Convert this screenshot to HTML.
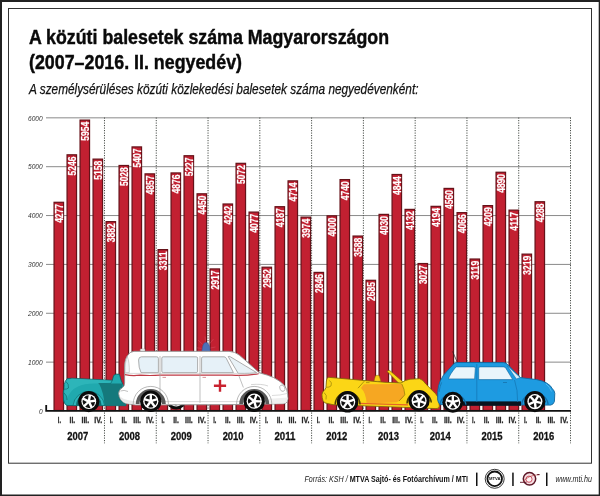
<!DOCTYPE html>
<html><head><meta charset="utf-8"><title>A közúti balesetek száma Magyarországon</title>
<style>
html,body{margin:0;padding:0;background:#fff;}
body{width:600px;height:496px;overflow:hidden;position:relative;font-family:"Liberation Sans",sans-serif;}
svg{position:absolute;left:0;top:0;will-change:transform;}
text{font-family:"Liberation Sans",sans-serif;}
.t1{font-weight:bold;font-size:21px;fill:#0a0a0a;stroke:#0a0a0a;stroke-width:0.45px;}
.sub{font-style:italic;font-size:13.9px;fill:#111;stroke:#111;stroke-width:0.25px;}
.bl{font-weight:bold;font-size:10.3px;fill:#fff;stroke:#fff;stroke-width:0.2px;}
.yl{font-style:italic;font-size:6.6px;fill:#333;}
.ql{font-weight:bold;font-size:8.8px;fill:#2a2a2a;stroke:#2a2a2a;stroke-width:0.3px;}
.yr{font-weight:bold;font-size:11.8px;fill:#111;stroke:#111;stroke-width:0.3px;}
.ft{font-size:8.3px;fill:#222;}
</style></head><body>
<svg width="600" height="496" viewBox="0 0 600 496">
<rect x="0" y="0" width="600" height="2" fill="#222"/><rect x="0" y="0" width="2" height="496" fill="#222"/><rect x="598.7" y="0" width="1.3" height="496" fill="#222"/><rect x="0" y="494.5" width="600" height="1.5" fill="#222"/>
<rect x="8.5" y="8.5" width="583" height="454.7" fill="none" stroke="#333" stroke-width="1"/>
<text x="29" y="43.6" class="t1" textLength="360" lengthAdjust="spacingAndGlyphs">A közúti balesetek száma Magyarországon</text>
<text x="29" y="69.2" class="t1" textLength="213" lengthAdjust="spacingAndGlyphs">(2007–2016. II. negyedév)</text>
<text x="29" y="94.4" class="sub" textLength="389.5" lengthAdjust="spacingAndGlyphs">A személysérüléses közúti közlekedési balesetek száma negyedévenként:</text>
<line x1="46" x2="571" y1="362.14" y2="362.14" stroke="#8a8a8a" stroke-width="1"/>
<line x1="46" x2="571" y1="313.28" y2="313.28" stroke="#8a8a8a" stroke-width="1"/>
<line x1="46" x2="571" y1="264.42" y2="264.42" stroke="#8a8a8a" stroke-width="1"/>
<line x1="46" x2="571" y1="215.56" y2="215.56" stroke="#8a8a8a" stroke-width="1"/>
<line x1="46" x2="571" y1="166.70" y2="166.70" stroke="#8a8a8a" stroke-width="1"/>
<line x1="46" x2="571" y1="117.84" y2="117.84" stroke="#8a8a8a" stroke-width="1"/>
<line x1="104.48" x2="104.48" y1="117.5" y2="443.3" stroke="#4a4f4a" stroke-width="1" stroke-dasharray="1.2,1.3"/>
<line x1="156.26" x2="156.26" y1="117.5" y2="443.3" stroke="#4a4f4a" stroke-width="1" stroke-dasharray="1.2,1.3"/>
<line x1="208.04" x2="208.04" y1="117.5" y2="443.3" stroke="#4a4f4a" stroke-width="1" stroke-dasharray="1.2,1.3"/>
<line x1="259.82" x2="259.82" y1="117.5" y2="443.3" stroke="#4a4f4a" stroke-width="1" stroke-dasharray="1.2,1.3"/>
<line x1="311.60" x2="311.60" y1="117.5" y2="443.3" stroke="#4a4f4a" stroke-width="1" stroke-dasharray="1.2,1.3"/>
<line x1="363.38" x2="363.38" y1="117.5" y2="443.3" stroke="#4a4f4a" stroke-width="1" stroke-dasharray="1.2,1.3"/>
<line x1="415.16" x2="415.16" y1="117.5" y2="443.3" stroke="#4a4f4a" stroke-width="1" stroke-dasharray="1.2,1.3"/>
<line x1="466.94" x2="466.94" y1="117.5" y2="443.3" stroke="#4a4f4a" stroke-width="1" stroke-dasharray="1.2,1.3"/>
<line x1="518.72" x2="518.72" y1="117.5" y2="443.3" stroke="#4a4f4a" stroke-width="1" stroke-dasharray="1.2,1.3"/>
<line x1="570.50" x2="570.50" y1="117.5" y2="443.3" stroke="#4a4f4a" stroke-width="1" stroke-dasharray="1.2,1.3"/>
<rect x="54.05" y="202.28" width="9.5" height="208.22" fill="#c22031" stroke="#651219" stroke-width="1.2"/>
<text transform="translate(62.50,203.98) rotate(-90)" x="-18.9" textLength="18.9" lengthAdjust="spacingAndGlyphs" class="bl">4277</text>
<rect x="67.05" y="154.80" width="9.5" height="255.70" fill="#c22031" stroke="#651219" stroke-width="1.2"/>
<text transform="translate(75.50,156.50) rotate(-90)" x="-18.9" textLength="18.9" lengthAdjust="spacingAndGlyphs" class="bl">5246</text>
<rect x="80.05" y="120.10" width="9.5" height="290.40" fill="#c22031" stroke="#651219" stroke-width="1.2"/>
<text transform="translate(88.50,121.80) rotate(-90)" x="-18.9" textLength="18.9" lengthAdjust="spacingAndGlyphs" class="bl">5954</text>
<rect x="93.05" y="159.11" width="9.5" height="251.39" fill="#c22031" stroke="#651219" stroke-width="1.2"/>
<text transform="translate(101.50,160.81) rotate(-90)" x="-18.9" textLength="18.9" lengthAdjust="spacingAndGlyphs" class="bl">5158</text>
<rect x="106.05" y="221.63" width="9.5" height="188.87" fill="#c22031" stroke="#651219" stroke-width="1.2"/>
<text transform="translate(114.50,223.33) rotate(-90)" x="-18.9" textLength="18.9" lengthAdjust="spacingAndGlyphs" class="bl">3882</text>
<rect x="119.05" y="165.48" width="9.5" height="245.02" fill="#c22031" stroke="#651219" stroke-width="1.2"/>
<text transform="translate(127.50,167.18) rotate(-90)" x="-18.9" textLength="18.9" lengthAdjust="spacingAndGlyphs" class="bl">5028</text>
<rect x="132.05" y="146.91" width="9.5" height="263.59" fill="#c22031" stroke="#651219" stroke-width="1.2"/>
<text transform="translate(140.50,148.61) rotate(-90)" x="-18.9" textLength="18.9" lengthAdjust="spacingAndGlyphs" class="bl">5407</text>
<rect x="145.05" y="173.86" width="9.5" height="236.64" fill="#c22031" stroke="#651219" stroke-width="1.2"/>
<text transform="translate(153.50,175.56) rotate(-90)" x="-18.9" textLength="18.9" lengthAdjust="spacingAndGlyphs" class="bl">4857</text>
<rect x="158.05" y="249.61" width="9.5" height="160.89" fill="#c22031" stroke="#651219" stroke-width="1.2"/>
<text transform="translate(166.50,251.31) rotate(-90)" x="-18.9" textLength="18.9" lengthAdjust="spacingAndGlyphs" class="bl">3311</text>
<rect x="171.05" y="172.93" width="9.5" height="237.57" fill="#c22031" stroke="#651219" stroke-width="1.2"/>
<text transform="translate(179.50,174.63) rotate(-90)" x="-18.9" textLength="18.9" lengthAdjust="spacingAndGlyphs" class="bl">4876</text>
<rect x="184.05" y="155.73" width="9.5" height="254.77" fill="#c22031" stroke="#651219" stroke-width="1.2"/>
<text transform="translate(192.50,157.43) rotate(-90)" x="-18.9" textLength="18.9" lengthAdjust="spacingAndGlyphs" class="bl">5227</text>
<rect x="197.05" y="193.80" width="9.5" height="216.70" fill="#c22031" stroke="#651219" stroke-width="1.2"/>
<text transform="translate(205.50,195.50) rotate(-90)" x="-18.9" textLength="18.9" lengthAdjust="spacingAndGlyphs" class="bl">4450</text>
<rect x="210.05" y="268.92" width="9.5" height="141.58" fill="#c22031" stroke="#651219" stroke-width="1.2"/>
<text transform="translate(218.50,270.62) rotate(-90)" x="-18.9" textLength="18.9" lengthAdjust="spacingAndGlyphs" class="bl">2917</text>
<rect x="223.05" y="203.99" width="9.5" height="206.51" fill="#c22031" stroke="#651219" stroke-width="1.2"/>
<text transform="translate(231.50,205.69) rotate(-90)" x="-18.9" textLength="18.9" lengthAdjust="spacingAndGlyphs" class="bl">4242</text>
<rect x="236.05" y="163.32" width="9.5" height="247.18" fill="#c22031" stroke="#651219" stroke-width="1.2"/>
<text transform="translate(244.50,165.02) rotate(-90)" x="-18.9" textLength="18.9" lengthAdjust="spacingAndGlyphs" class="bl">5072</text>
<rect x="249.05" y="212.08" width="9.5" height="198.42" fill="#c22031" stroke="#651219" stroke-width="1.2"/>
<text transform="translate(257.50,213.78) rotate(-90)" x="-18.9" textLength="18.9" lengthAdjust="spacingAndGlyphs" class="bl">4077</text>
<rect x="262.05" y="267.20" width="9.5" height="143.30" fill="#c22031" stroke="#651219" stroke-width="1.2"/>
<text transform="translate(270.50,268.90) rotate(-90)" x="-18.9" textLength="18.9" lengthAdjust="spacingAndGlyphs" class="bl">2952</text>
<rect x="275.05" y="206.69" width="9.5" height="203.81" fill="#c22031" stroke="#651219" stroke-width="1.2"/>
<text transform="translate(283.50,208.39) rotate(-90)" x="-18.9" textLength="18.9" lengthAdjust="spacingAndGlyphs" class="bl">4187</text>
<rect x="288.05" y="180.86" width="9.5" height="229.64" fill="#c22031" stroke="#651219" stroke-width="1.2"/>
<text transform="translate(296.50,182.56) rotate(-90)" x="-18.9" textLength="18.9" lengthAdjust="spacingAndGlyphs" class="bl">4714</text>
<rect x="301.05" y="217.12" width="9.5" height="193.38" fill="#c22031" stroke="#651219" stroke-width="1.2"/>
<text transform="translate(309.50,218.82) rotate(-90)" x="-18.9" textLength="18.9" lengthAdjust="spacingAndGlyphs" class="bl">3974</text>
<rect x="314.05" y="272.40" width="9.5" height="138.10" fill="#c22031" stroke="#651219" stroke-width="1.2"/>
<text transform="translate(322.50,274.10) rotate(-90)" x="-18.9" textLength="18.9" lengthAdjust="spacingAndGlyphs" class="bl">2846</text>
<rect x="327.05" y="215.85" width="9.5" height="194.65" fill="#c22031" stroke="#651219" stroke-width="1.2"/>
<text transform="translate(335.50,217.55) rotate(-90)" x="-18.9" textLength="18.9" lengthAdjust="spacingAndGlyphs" class="bl">4000</text>
<rect x="340.05" y="179.59" width="9.5" height="230.91" fill="#c22031" stroke="#651219" stroke-width="1.2"/>
<text transform="translate(348.50,181.29) rotate(-90)" x="-18.9" textLength="18.9" lengthAdjust="spacingAndGlyphs" class="bl">4740</text>
<rect x="353.05" y="236.04" width="9.5" height="174.46" fill="#c22031" stroke="#651219" stroke-width="1.2"/>
<text transform="translate(361.50,237.74) rotate(-90)" x="-18.9" textLength="18.9" lengthAdjust="spacingAndGlyphs" class="bl">3588</text>
<rect x="366.05" y="280.29" width="9.5" height="130.21" fill="#c22031" stroke="#651219" stroke-width="1.2"/>
<text transform="translate(374.50,281.99) rotate(-90)" x="-18.9" textLength="18.9" lengthAdjust="spacingAndGlyphs" class="bl">2685</text>
<rect x="379.05" y="214.38" width="9.5" height="196.12" fill="#c22031" stroke="#651219" stroke-width="1.2"/>
<text transform="translate(387.50,216.08) rotate(-90)" x="-18.9" textLength="18.9" lengthAdjust="spacingAndGlyphs" class="bl">4030</text>
<rect x="392.05" y="174.49" width="9.5" height="236.01" fill="#c22031" stroke="#651219" stroke-width="1.2"/>
<text transform="translate(400.50,176.19) rotate(-90)" x="-18.9" textLength="18.9" lengthAdjust="spacingAndGlyphs" class="bl">4844</text>
<rect x="405.05" y="209.38" width="9.5" height="201.12" fill="#c22031" stroke="#651219" stroke-width="1.2"/>
<text transform="translate(413.50,211.08) rotate(-90)" x="-18.9" textLength="18.9" lengthAdjust="spacingAndGlyphs" class="bl">4132</text>
<rect x="418.05" y="263.53" width="9.5" height="146.97" fill="#c22031" stroke="#651219" stroke-width="1.2"/>
<text transform="translate(426.50,265.23) rotate(-90)" x="-18.9" textLength="18.9" lengthAdjust="spacingAndGlyphs" class="bl">3027</text>
<rect x="431.05" y="206.34" width="9.5" height="204.16" fill="#c22031" stroke="#651219" stroke-width="1.2"/>
<text transform="translate(439.50,208.04) rotate(-90)" x="-18.9" textLength="18.9" lengthAdjust="spacingAndGlyphs" class="bl">4194</text>
<rect x="444.05" y="188.41" width="9.5" height="222.09" fill="#c22031" stroke="#651219" stroke-width="1.2"/>
<text transform="translate(452.50,190.11) rotate(-90)" x="-18.9" textLength="18.9" lengthAdjust="spacingAndGlyphs" class="bl">4560</text>
<rect x="457.05" y="212.62" width="9.5" height="197.88" fill="#c22031" stroke="#651219" stroke-width="1.2"/>
<text transform="translate(465.50,214.32) rotate(-90)" x="-18.9" textLength="18.9" lengthAdjust="spacingAndGlyphs" class="bl">4066</text>
<rect x="470.05" y="259.02" width="9.5" height="151.48" fill="#c22031" stroke="#651219" stroke-width="1.2"/>
<text transform="translate(478.50,260.72) rotate(-90)" x="-18.9" textLength="18.9" lengthAdjust="spacingAndGlyphs" class="bl">3119</text>
<rect x="483.05" y="205.61" width="9.5" height="204.89" fill="#c22031" stroke="#651219" stroke-width="1.2"/>
<text transform="translate(491.50,207.31) rotate(-90)" x="-18.9" textLength="18.9" lengthAdjust="spacingAndGlyphs" class="bl">4209</text>
<rect x="496.05" y="172.24" width="9.5" height="238.26" fill="#c22031" stroke="#651219" stroke-width="1.2"/>
<text transform="translate(504.50,173.94) rotate(-90)" x="-18.9" textLength="18.9" lengthAdjust="spacingAndGlyphs" class="bl">4890</text>
<rect x="509.05" y="210.12" width="9.5" height="200.38" fill="#c22031" stroke="#651219" stroke-width="1.2"/>
<text transform="translate(517.50,211.82) rotate(-90)" x="-18.9" textLength="18.9" lengthAdjust="spacingAndGlyphs" class="bl">4117</text>
<rect x="522.05" y="254.12" width="9.5" height="156.38" fill="#c22031" stroke="#651219" stroke-width="1.2"/>
<text transform="translate(530.50,255.82) rotate(-90)" x="-18.9" textLength="18.9" lengthAdjust="spacingAndGlyphs" class="bl">3219</text>
<rect x="535.05" y="201.74" width="9.5" height="208.76" fill="#c22031" stroke="#651219" stroke-width="1.2"/>
<text transform="translate(543.50,203.44) rotate(-90)" x="-18.9" textLength="18.9" lengthAdjust="spacingAndGlyphs" class="bl">4288</text>
<path d="M46.2 405 V410.9 H571" fill="none" stroke="#111" stroke-width="1.8"/>
<text x="42.7" y="413.70" text-anchor="end" class="yl">0</text>
<text x="42.7" y="364.84" text-anchor="end" class="yl">1000</text>
<text x="42.7" y="315.98" text-anchor="end" class="yl">2000</text>
<text x="42.7" y="267.12" text-anchor="end" class="yl">3000</text>
<text x="42.7" y="218.26" text-anchor="end" class="yl">4000</text>
<text x="42.7" y="169.40" text-anchor="end" class="yl">5000</text>
<text x="42.7" y="120.54" text-anchor="end" class="yl">6000</text>
<text x="57.87" y="422.6" textLength="3.2" lengthAdjust="spacingAndGlyphs" class="ql">I.</text>
<text x="69.62" y="422.6" textLength="5.6" lengthAdjust="spacingAndGlyphs" class="ql">II.</text>
<text x="81.46" y="422.6" textLength="7.8" lengthAdjust="spacingAndGlyphs" class="ql">III.</text>
<text x="94.31" y="422.6" textLength="8.0" lengthAdjust="spacingAndGlyphs" class="ql">IV.</text>
<text x="109.65" y="422.6" textLength="3.2" lengthAdjust="spacingAndGlyphs" class="ql">I.</text>
<text x="121.40" y="422.6" textLength="5.6" lengthAdjust="spacingAndGlyphs" class="ql">II.</text>
<text x="133.24" y="422.6" textLength="7.8" lengthAdjust="spacingAndGlyphs" class="ql">III.</text>
<text x="146.09" y="422.6" textLength="8.0" lengthAdjust="spacingAndGlyphs" class="ql">IV.</text>
<text x="161.43" y="422.6" textLength="3.2" lengthAdjust="spacingAndGlyphs" class="ql">I.</text>
<text x="173.18" y="422.6" textLength="5.6" lengthAdjust="spacingAndGlyphs" class="ql">II.</text>
<text x="185.02" y="422.6" textLength="7.8" lengthAdjust="spacingAndGlyphs" class="ql">III.</text>
<text x="197.87" y="422.6" textLength="8.0" lengthAdjust="spacingAndGlyphs" class="ql">IV.</text>
<text x="213.21" y="422.6" textLength="3.2" lengthAdjust="spacingAndGlyphs" class="ql">I.</text>
<text x="224.96" y="422.6" textLength="5.6" lengthAdjust="spacingAndGlyphs" class="ql">II.</text>
<text x="236.80" y="422.6" textLength="7.8" lengthAdjust="spacingAndGlyphs" class="ql">III.</text>
<text x="249.65" y="422.6" textLength="8.0" lengthAdjust="spacingAndGlyphs" class="ql">IV.</text>
<text x="264.99" y="422.6" textLength="3.2" lengthAdjust="spacingAndGlyphs" class="ql">I.</text>
<text x="276.74" y="422.6" textLength="5.6" lengthAdjust="spacingAndGlyphs" class="ql">II.</text>
<text x="288.58" y="422.6" textLength="7.8" lengthAdjust="spacingAndGlyphs" class="ql">III.</text>
<text x="301.43" y="422.6" textLength="8.0" lengthAdjust="spacingAndGlyphs" class="ql">IV.</text>
<text x="316.77" y="422.6" textLength="3.2" lengthAdjust="spacingAndGlyphs" class="ql">I.</text>
<text x="328.52" y="422.6" textLength="5.6" lengthAdjust="spacingAndGlyphs" class="ql">II.</text>
<text x="340.36" y="422.6" textLength="7.8" lengthAdjust="spacingAndGlyphs" class="ql">III.</text>
<text x="353.21" y="422.6" textLength="8.0" lengthAdjust="spacingAndGlyphs" class="ql">IV.</text>
<text x="368.55" y="422.6" textLength="3.2" lengthAdjust="spacingAndGlyphs" class="ql">I.</text>
<text x="380.30" y="422.6" textLength="5.6" lengthAdjust="spacingAndGlyphs" class="ql">II.</text>
<text x="392.14" y="422.6" textLength="7.8" lengthAdjust="spacingAndGlyphs" class="ql">III.</text>
<text x="404.99" y="422.6" textLength="8.0" lengthAdjust="spacingAndGlyphs" class="ql">IV.</text>
<text x="420.33" y="422.6" textLength="3.2" lengthAdjust="spacingAndGlyphs" class="ql">I.</text>
<text x="432.08" y="422.6" textLength="5.6" lengthAdjust="spacingAndGlyphs" class="ql">II.</text>
<text x="443.92" y="422.6" textLength="7.8" lengthAdjust="spacingAndGlyphs" class="ql">III.</text>
<text x="456.77" y="422.6" textLength="8.0" lengthAdjust="spacingAndGlyphs" class="ql">IV.</text>
<text x="472.11" y="422.6" textLength="3.2" lengthAdjust="spacingAndGlyphs" class="ql">I.</text>
<text x="483.86" y="422.6" textLength="5.6" lengthAdjust="spacingAndGlyphs" class="ql">II.</text>
<text x="495.70" y="422.6" textLength="7.8" lengthAdjust="spacingAndGlyphs" class="ql">III.</text>
<text x="508.55" y="422.6" textLength="8.0" lengthAdjust="spacingAndGlyphs" class="ql">IV.</text>
<text x="523.89" y="422.6" textLength="3.2" lengthAdjust="spacingAndGlyphs" class="ql">I.</text>
<text x="535.64" y="422.6" textLength="5.6" lengthAdjust="spacingAndGlyphs" class="ql">II.</text>
<text x="547.48" y="422.6" textLength="7.8" lengthAdjust="spacingAndGlyphs" class="ql">III.</text>
<text x="560.33" y="422.6" textLength="8.0" lengthAdjust="spacingAndGlyphs" class="ql">IV.</text>
<text x="67.29" y="439.8" textLength="21" lengthAdjust="spacingAndGlyphs" class="yr">2007</text>
<text x="119.07" y="439.8" textLength="21" lengthAdjust="spacingAndGlyphs" class="yr">2008</text>
<text x="170.85" y="439.8" textLength="21" lengthAdjust="spacingAndGlyphs" class="yr">2009</text>
<text x="222.63" y="439.8" textLength="21" lengthAdjust="spacingAndGlyphs" class="yr">2010</text>
<text x="274.41" y="439.8" textLength="21" lengthAdjust="spacingAndGlyphs" class="yr">2011</text>
<text x="326.19" y="439.8" textLength="21" lengthAdjust="spacingAndGlyphs" class="yr">2012</text>
<text x="377.97" y="439.8" textLength="21" lengthAdjust="spacingAndGlyphs" class="yr">2013</text>
<text x="429.75" y="439.8" textLength="21" lengthAdjust="spacingAndGlyphs" class="yr">2014</text>
<text x="481.53" y="439.8" textLength="21" lengthAdjust="spacingAndGlyphs" class="yr">2015</text>
<text x="533.31" y="439.8" textLength="21" lengthAdjust="spacingAndGlyphs" class="yr">2016</text>
<g id="teal">
<path d="M67.2 378.6 L72 378.2 L112.3 380.3 L113.6 375.6 Q115.4 373.2 119.4 374.3 L121 380 L126 392 L126 405.7 L67 405.6 Q63.8 404 63.6 400 L63.3 394 Q63 391 64.2 389 Q63.8 384 65.3 381.2 Z" fill="#20a9ae" stroke="#0e6063" stroke-width="0.8" stroke-linejoin="round"/>
<path d="M99 383.5 L122 383.5 L126 405.2 L104.5 405.2 Q104 393 99 383.5Z" fill="#15797c"/>
<path d="M72 378.6 L112 380.6 L110.5 383.6 L98 383.6 Q85 383 78 386.5 Q70 390 67 399 L64.5 392 Q64 384 66.5 380.5Z" fill="#38bfc3" opacity="0.55"/>
<path d="M73 405.5 A15.9 15.9 0 0 1 104.6 405.5 L101.2 405.5 A12.4 12.4 0 0 0 76.4 405.5Z" fill="#2fb7bc" stroke="#0e6063" stroke-width="0.6"/>
<path d="M76.4 405.5 A12.4 12.4 0 0 1 101.2 405.5Z" fill="#0f6b6e"/>
<path d="M66 381.5 Q69 384 68.5 388 Q66.5 389.5 64.3 389.2" fill="none" stroke="#0e6063" stroke-width="0.6"/>
<path d="M64 393 Q67.5 395.5 67 400" fill="none" stroke="#0e6063" stroke-width="0.6"/>
<path d="M98.5 383.6 L110.8 383.4 L112.2 380.5" fill="none" stroke="#0e6063" stroke-width="0.6"/>
<g transform="translate(88.8,401.6)">
<circle r="10.6" fill="#0b0b0b"/>
<circle r="7.42" fill="#fff"/>
<path d="M1.45 -1.40 L2.24 -5.84 A6.25 6.25 0 0 1 5.91 -2.04Z" fill="#111"/>
<path d="M1.78 0.95 L6.25 0.33 A6.25 6.25 0 0 1 3.76 4.99Z" fill="#111"/>
<path d="M-0.35 1.98 L1.62 6.04 A6.25 6.25 0 0 1 -3.59 5.12Z" fill="#111"/>
<path d="M-1.99 0.28 L-5.25 3.41 A6.25 6.25 0 0 1 -5.98 -1.83Z" fill="#111"/>
<path d="M-0.88 -1.81 L-4.86 -3.94 A6.25 6.25 0 0 1 -0.11 -6.25Z" fill="#111"/>
</g>
</g>
<g id="amb">
<g transform="translate(176.2,399.3)">
<circle r="10.3" fill="#0b0b0b"/>
<circle r="7.21" fill="#fff"/>
<path d="M1.62 -1.09 L3.13 -5.21 A6.08 6.08 0 0 1 6.00 -0.95Z" fill="#111"/>
<path d="M1.54 1.20 L5.92 1.37 A6.08 6.08 0 0 1 2.76 5.41Z" fill="#111"/>
<path d="M-0.67 1.84 L0.53 6.05 A6.08 6.08 0 0 1 -4.30 4.30Z" fill="#111"/>
<path d="M-1.96 -0.07 L-5.59 2.37 A6.08 6.08 0 0 1 -5.41 -2.76Z" fill="#111"/>
<path d="M-0.54 -1.88 L-3.99 -4.59 A6.08 6.08 0 0 1 0.95 -6.00Z" fill="#111"/>
</g>
<g stroke="#e06a78" stroke-width="0.6" opacity="0.55"><line x1="196.5" y1="347.8" x2="201.5" y2="348.4"/><line x1="215.5" y1="347" x2="210.5" y2="348"/><line x1="198" y1="340" x2="202.6" y2="344.4"/><line x1="213.5" y1="339" x2="209.4" y2="344"/><line x1="205" y1="336.5" x2="205.6" y2="341.5"/></g>
<path d="M201.8 351.6 L202.6 346.5 Q203.2 342.6 206 342.4 Q208.8 342.6 209.5 346.5 L210.3 351.6Z" fill="#4d70b7" stroke="#37549a" stroke-width="0.5"/>
<rect x="140.2" y="348.9" width="4.8" height="2.6" rx="0.8" fill="#f3f3f3" stroke="#aaa" stroke-width="0.5"/>
<path d="M136 405 L126 403.6 Q119.3 401 118.6 393.5 Q118.8 389.5 122.5 387.6 Q124.6 386 124.6 383 L124.6 365 Q125 358.5 127.6 355.6 Q129.5 351.6 134 351.3 L229 351.3 Q235 351.6 239.5 355.2 L259.4 372.8 Q268 375 273.5 377.5 Q281 381.2 284.8 386 Q287.3 389.5 287.7 394 Q288.4 399.5 287.2 401.8 Q286.2 403.6 283 403.8 L240 404.6 Z" fill="#fff" stroke="#8e8e8e" stroke-width="0.9" stroke-linejoin="round"/>
<path d="M119.5 396 Q123 399.5 130 400.5 L137 401.5 L136 404.6 L126 403.3 Q121 401.5 119.5 396Z" fill="#e9e9e9"/>
<path d="M264 403.9 L284 403.4 Q287.5 402.5 287.7 397.5 L270 398.8Z" fill="#efefef"/>
<path d="M127.3 356.5 Q124.8 362 125.2 372.5 L129.3 372.5 Q129.6 362 127.3 356.5Z" fill="#f1f6f9" stroke="#aaa" stroke-width="0.5"/>
<path d="M120.5 391 Q124 389.5 128 391.5" fill="none" stroke="#999" stroke-width="0.6"/>
<path d="M141.5 356.8 H156.8 Q158.4 356.8 158.4 358.4 V372.6 H141 Q138.6 368 138.6 360 Q138.7 356.8 141.5 356.8Z" fill="#e6f1f8" stroke="#9a9a9a" stroke-width="0.8"/>
<rect x="161.8" y="356.8" width="35.8" height="15.8" rx="1.4" fill="#e6f1f8" stroke="#9a9a9a" stroke-width="0.8"/>
<path d="M203 356.8 H224 Q225.4 356.8 226.2 358.2 L233.4 372.6 H201.6 V358.2 Q201.6 356.8 203 356.8Z" fill="#e6f1f8" stroke="#9a9a9a" stroke-width="0.8"/>
<path d="M228.2 356.6 Q229 355.9 230.4 356.8 L256.6 372.6 Q252 373.6 238.2 373.4 Z" fill="#e9f2f7" stroke="#9a9a9a" stroke-width="0.8" stroke-linejoin="round"/>
<path d="M125 374.6 Q132 376.2 140 375.2 Q150 375.8 160 375.2 H232 Q246 376 258.6 373.6" fill="none" stroke="#bf3a45" stroke-width="1.2"/>
<path d="M125 373.4 H258" fill="none" stroke="#c9c9c9" stroke-width="0.7"/>
<path d="M160 356 V402.8 M200 356 V402.8 M238.8 375.6 L243.4 387.5" fill="none" stroke="#a5a5a5" stroke-width="0.7"/>
<path d="M162.5 377.4 H166 M202.5 377.4 H206" stroke="#c96a72" stroke-width="0.7"/>
<path d="M161 401.6 H240" stroke="#bdbdbd" stroke-width="0.6"/>
<path d="M251 384.6 Q262 383.6 268 386" fill="none" stroke="#bbb" stroke-width="0.6"/>
<ellipse cx="282.3" cy="388.2" rx="2.4" ry="3.3" transform="rotate(-25 282.3 388.2)" fill="#fff" stroke="#999" stroke-width="0.6"/>
<path d="M272 395.5 Q280 395.5 287.5 393.4" fill="none" stroke="#c4c4c4" stroke-width="0.6"/>
<path d="M213.9 384.6 H218.8 V379.8 H221.2 V384.6 H226.1 V387 H221.2 V391.8 H218.8 V387 H213.9Z" fill="#c9222f"/>
<path d="M133.2 404 A17.6 17.6 0 0 1 168.4 404" fill="none" stroke="#9a9a9a" stroke-width="0.7"/><path d="M135.8 404 A15 15 0 0 1 165.8 404 L162 404 A11.2 11.2 0 0 0 139.6 404Z" fill="#5a5a5a"/>
<path d="M236.6 404 A17.6 17.6 0 0 1 271.8 404" fill="none" stroke="#9a9a9a" stroke-width="0.7"/><path d="M239.2 404 A15 15 0 0 1 269.2 404 L265.4 404 A11.2 11.2 0 0 0 243 404Z" fill="#5a5a5a"/>
<g transform="translate(150.8,401.2)">
<circle r="10.7" fill="#0b0b0b"/>
<circle r="7.60" fill="#fff"/>
<path d="M1.19 -1.64 L1.20 -6.20 A6.31 6.31 0 0 1 5.52 -3.06Z" fill="#111"/>
<path d="M1.93 0.63 L6.27 -0.77 A6.31 6.31 0 0 1 4.62 4.31Z" fill="#111"/>
<path d="M0.00 2.03 L2.67 5.72 A6.31 6.31 0 0 1 -2.67 5.72Z" fill="#111"/>
<path d="M-1.93 0.63 L-4.62 4.31 A6.31 6.31 0 0 1 -6.27 -0.77Z" fill="#111"/>
<path d="M-1.19 -1.64 L-5.52 -3.06 A6.31 6.31 0 0 1 -1.20 -6.20Z" fill="#111"/>
</g>
<g transform="translate(254.2,401.2)">
<circle r="10.7" fill="#0b0b0b"/>
<circle r="7.60" fill="#fff"/>
<path d="M1.69 -1.14 L3.25 -5.41 A6.31 6.31 0 0 1 6.24 -0.99Z" fill="#111"/>
<path d="M1.60 1.25 L6.15 1.42 A6.31 6.31 0 0 1 2.87 5.62Z" fill="#111"/>
<path d="M-0.70 1.91 L0.55 6.29 A6.31 6.31 0 0 1 -4.46 4.46Z" fill="#111"/>
<path d="M-2.03 -0.07 L-5.81 2.47 A6.31 6.31 0 0 1 -5.62 -2.87Z" fill="#111"/>
<path d="M-0.56 -1.95 L-4.14 -4.76 A6.31 6.31 0 0 1 0.99 -6.24Z" fill="#111"/>
</g>
</g>
<g id="yellow">
<path d="M387.2 371.6 Q388.2 370 389.8 370.6 L404.2 383 L400.5 385 Z" fill="#fbd616" stroke="#6d5c05" stroke-width="0.6" stroke-linejoin="round"/>
<path d="M373.9 381.4 L375.4 375.9 Q377.3 374.7 379.3 375.9 L380.9 381.4Z" fill="#f9c914" stroke="#8a7206" stroke-width="0.5"/>
<path d="M328.4 377.3 Q326.4 378.6 326.4 381 L325.9 387.6 Q325.4 390 322.6 392 Q321.6 394.5 322.2 397.5 Q322.6 401.5 325 402.9 L333 404.7 L436 408.6 Q439.4 408.8 439.4 406 L438 397.3 Q436 393.5 433 391.2 L425.8 384 Q423 379.6 419.6 378.7 L410 379.2 Q405 380 401 383 L385 382.3 L363.4 380.4 Z" fill="#fbd616" stroke="#7a6606" stroke-width="0.8" stroke-linejoin="round"/>
<path d="M364 384.2 L401.6 383.9 Q404.4 389 404.7 394.8 Q402.5 399.5 396.9 402.3 L366.5 403.6 Q366.2 393 361 388 Z" fill="#f6a722"/>
<path d="M359 403.9 L408 405.6 L408 404.2 L359 402.8Z" fill="#e5632a"/>
<path d="M364.8 380.6 L358 388.2 M401.8 384 Q404.6 389 404.8 394.8 L399 401" fill="none" stroke="#7a6606" stroke-width="0.6"/>
<path d="M329.5 380.5 Q332.5 382.5 331 386 Q329 387.5 326.2 387.3 M324 392.5 Q327.5 395 326 399.5" fill="none" stroke="#8a7206" stroke-width="0.6"/>
<path d="M366 382.6 H369.5" stroke="#8a7206" stroke-width="0.6"/>
<path d="M335.2 404.5 A12.4 12.4 0 0 1 360 404.5" fill="none" stroke="#4a4004" stroke-width="1.5"/>
<path d="M407 403.5 A12.2 12.2 0 0 1 431.3 402.5" fill="none" stroke="#4a4004" stroke-width="1.5"/>
<g transform="translate(347.6,401.8)">
<circle r="10.8" fill="#0b0b0b"/>
<circle r="7.67" fill="#fff"/>
<path d="M1.21 -1.66 L1.22 -6.25 A6.37 6.37 0 0 1 5.57 -3.09Z" fill="#111"/>
<path d="M1.95 0.63 L6.32 -0.78 A6.37 6.37 0 0 1 4.66 4.35Z" fill="#111"/>
<path d="M0.00 2.05 L2.69 5.77 A6.37 6.37 0 0 1 -2.69 5.77Z" fill="#111"/>
<path d="M-1.95 0.63 L-4.66 4.35 A6.37 6.37 0 0 1 -6.32 -0.78Z" fill="#111"/>
<path d="M-1.21 -1.66 L-5.57 -3.09 A6.37 6.37 0 0 1 -1.22 -6.25Z" fill="#111"/>
</g>
<g transform="translate(419.1,400.7)">
<circle r="10.6" fill="#0b0b0b"/>
<circle r="7.53" fill="#fff"/>
<path d="M1.95 -0.49 L4.86 -3.94 A6.25 6.25 0 0 1 6.14 1.19Z" fill="#111"/>
<path d="M1.07 1.71 L5.25 3.41 A6.25 6.25 0 0 1 0.76 6.21Z" fill="#111"/>
<path d="M-1.29 1.54 L-1.62 6.04 A6.25 6.25 0 0 1 -5.67 2.64Z" fill="#111"/>
<path d="M-1.87 -0.75 L-6.25 0.33 A6.25 6.25 0 0 1 -4.27 -4.57Z" fill="#111"/>
<path d="M0.14 -2.01 L-2.24 -5.84 A6.25 6.25 0 0 1 3.03 -5.47Z" fill="#111"/>
</g>
</g>
<g id="blue">
<line x1="452.6" y1="351.4" x2="456.9" y2="361.5" stroke="#222" stroke-width="0.7"/>
<path d="M440.8 404.6 Q437.8 403 437.7 400 L437.7 391.6 Q438.3 385.5 439.9 381.7 L443.4 375.3 L454 363.6 Q455.2 362.5 457.4 362.5 L503.6 362.6 Q506 362.8 507.8 364.6 L520.6 377.6 L536.6 379.6 Q543 380.8 546.6 383 Q551 385.6 552.3 388.6 Q554.6 390.8 554.8 393.4 L554.4 401.6 Q553.4 404.6 550.7 405.1 Z" fill="#1e9be1" stroke="#12659b" stroke-width="0.9" stroke-linejoin="round"/>
<rect x="463" y="401.4" width="58" height="4.4" fill="#08131f"/>
<path d="M456 366.9 H474 Q475.3 366.9 475.3 368.2 L474.6 378.9 H448.4 Q450 374 456 366.9Z" fill="#eaf5fb" stroke="#12659b" stroke-width="0.6"/>
<path d="M480 366.9 H504 Q505.2 367 505.8 368.2 L512.7 379.6 H478.7 V368.2 Q478.7 366.9 480 366.9Z" fill="#eaf5fb" stroke="#12659b" stroke-width="0.6"/>
<path d="M507.4 366 L520.2 377.5 L516.4 379 Z" fill="#d8edf8" stroke="#12659b" stroke-width="0.5" stroke-linejoin="round"/>
<path d="M476.8 364 V402 M514.5 380 Q518 390 517.6 402" fill="none" stroke="#1274b2" stroke-width="0.7"/>
<path d="M503 382.5 H507" stroke="#12659b" stroke-width="0.6"/>
<path d="M546 384 Q550 387 551.5 391.5" fill="none" stroke="#5cbcf0" stroke-width="0.8"/>
<path d="M439 392 Q440 386 441.6 382.4" fill="none" stroke="#12659b" stroke-width="0.6"/>
<path d="M439.8 404.6 A13.3 13.3 0 0 1 466 404.6" fill="none" stroke="#146fa9" stroke-width="1.4"/>
<path d="M521.6 404.6 A13.4 13.4 0 0 1 548.2 404.6" fill="none" stroke="#146fa9" stroke-width="1.4"/>
<g transform="translate(452.85,402.2)">
<circle r="10.5" fill="#0b0b0b"/>
<circle r="7.46" fill="#fff"/>
<path d="M1.17 -1.61 L1.18 -6.08 A6.19 6.19 0 0 1 5.42 -3.00Z" fill="#111"/>
<path d="M1.90 0.62 L6.15 -0.75 A6.19 6.19 0 0 1 4.53 4.22Z" fill="#111"/>
<path d="M0.00 2.00 L2.62 5.61 A6.19 6.19 0 0 1 -2.62 5.61Z" fill="#111"/>
<path d="M-1.90 0.62 L-4.53 4.22 A6.19 6.19 0 0 1 -6.15 -0.75Z" fill="#111"/>
<path d="M-1.17 -1.61 L-5.42 -3.00 A6.19 6.19 0 0 1 -1.18 -6.08Z" fill="#111"/>
</g>
<g transform="translate(534.9,401.6)">
<circle r="10.6" fill="#0b0b0b"/>
<circle r="7.53" fill="#fff"/>
<path d="M1.84 -0.82 L4.10 -4.72 A6.25 6.25 0 0 1 6.25 0.11Z" fill="#111"/>
<path d="M1.35 1.50 L5.76 2.44 A6.25 6.25 0 0 1 1.83 5.98Z" fill="#111"/>
<path d="M-1.01 1.74 L-0.55 6.23 A6.25 6.25 0 0 1 -5.12 3.59Z" fill="#111"/>
<path d="M-1.97 -0.42 L-6.09 1.41 A6.25 6.25 0 0 1 -4.99 -3.76Z" fill="#111"/>
<path d="M-0.21 -2.00 L-3.22 -5.36 A6.25 6.25 0 0 1 2.04 -5.91Z" fill="#111"/>
</g>
</g>
<g id="footer">
<text x="304.5" y="481.6" class="ft" textLength="163.5" lengthAdjust="spacingAndGlyphs"><tspan font-style="italic" fill="#222">Forrás: KSH / </tspan><tspan font-weight="bold" fill="#111">MTVA Sajtó- és Fotóarchívum / MTI</tspan></text>
<rect x="476" y="472.6" width="1.5" height="13.4" fill="#111"/>
<rect x="512.2" y="472.6" width="1.5" height="13.4" fill="#111"/>
<rect x="546" y="472.6" width="1.5" height="13.4" fill="#111"/>
<circle cx="494.7" cy="478.8" r="9.5" fill="#fff" stroke="#222" stroke-width="0.9"/>
<circle cx="494.7" cy="478.8" r="7.3" fill="#fff" stroke="#111" stroke-width="1.8"/>
<text x="494.7" y="480.2" text-anchor="middle" font-weight="bold" font-size="4.2" fill="#111">MTVA</text>
<circle cx="529.5" cy="478.8" r="6.2" fill="#f6dde1" stroke="#5c1626" stroke-width="1.5"/>
<circle cx="529" cy="479.2" r="3.1" fill="#fdf3f4" stroke="#cc5565" stroke-width="1"/>
<path d="M520 482.3 H526.5" stroke="#5a1020" stroke-width="0.9"/>
<path d="M523 481.5 Q529 475 538.5 474.7" stroke="#a33" stroke-width="0.6" fill="none"/>
<path d="M537.2 474.6 H539.6" stroke="#5a1020" stroke-width="1.1"/>
<text x="555.5" y="481.8" font-style="italic" font-size="8.6" fill="#222" textLength="36.5" lengthAdjust="spacingAndGlyphs">www.mti.hu</text>
</g>

</svg>
</body></html>
